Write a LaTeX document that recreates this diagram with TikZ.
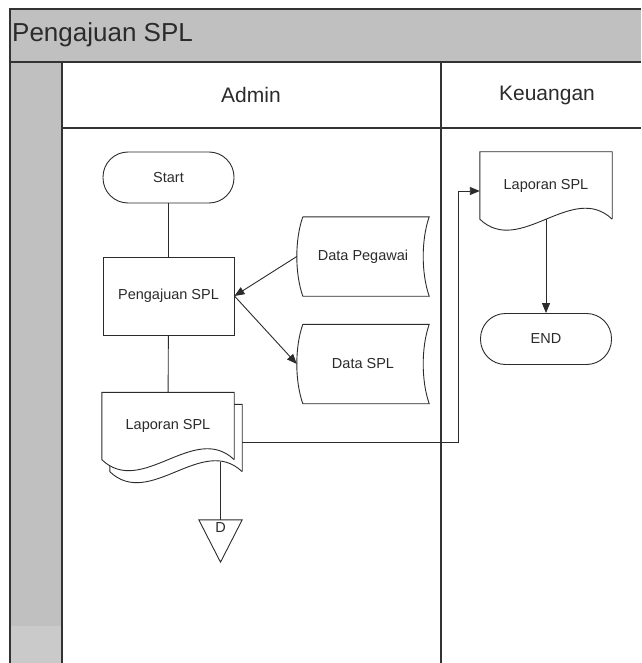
\documentclass[tikz,border=0pt]{standalone}
\usepackage{fontspec}
\setmainfont{Liberation Sans}
\usetikzlibrary{arrows.meta,calc}
\definecolor{lanegray}{HTML}{C0C0C0}
\definecolor{lanelight}{HTML}{CACACA}
\definecolor{frameline}{HTML}{333333}
\definecolor{inkgray}{HTML}{2B2B2B}
\pgfdeclarelayer{lanes}
\pgfdeclarelayer{shapes}
\pgfsetlayers{lanes,shapes,main}

\begin{document}
\begin{tikzpicture}[
      x=1pt, y=-1pt,
      title/.style={anchor=west, inner sep=0pt, text=inkgray, font=\fontsize{26}{31}\selectfont},
      header/.style={inner sep=0pt, text=inkgray, font=\fontsize{21}{25}\selectfont},
      terminal/.style={draw=inkgray, line width=0.9pt, rounded corners=25pt, minimum width=131pt, minimum height=51pt, inner sep=0pt, text=inkgray, font=\fontsize{14.5}{17}\selectfont},
      process/.style={draw=inkgray, line width=0.9pt, minimum width=131pt, minimum height=78pt, inner sep=0pt, text=inkgray, font=\fontsize{14.5}{17}\selectfont},
      store/.style={minimum width=132pt, minimum height=79pt, inner sep=0pt, text=inkgray, font=\fontsize{14.5}{17}\selectfont},
      docbox/.style={minimum width=132pt, minimum height=67pt, inner sep=0pt, text=inkgray, font=\fontsize{14.5}{17}\selectfont},
      conn/.style={minimum width=43pt, minimum height=42pt, inner sep=0pt},
      outline/.style={draw=inkgray, line width=0.9pt, fill=white},
      link/.style={draw=inkgray, line width=0.9pt},
      arr/.style={-{Triangle[length=10pt,width=8pt]}, draw=inkgray, line width=0.9pt},
      lane/.style={draw=frameline, line width=1.6pt}
  ]
    \useasboundingbox (0,0) rectangle (641,663);

    % pool and lanes
    \begin{pgfonlayer}{lanes}
      \fill[lanegray] (10,9) rectangle (641,62);
      \fill[lanegray] (10,62) rectangle (62,626);
      \fill[lanelight] (10,626) rectangle (62,663);
      \draw[lane] (641,9) -- (10,9) -- (10,663);
      \draw[lane] (10,62) -- (641,62);
      \draw[lane] (62,62) -- (62,663);
      \draw[lane] (62,128) -- (641,128);
      \draw[lane] (441,62) -- (441,663);
    \end{pgfonlayer}
    \node[title] (pool) at (12,35) {Pengajuan SPL};
    \node[header] (admin) at (251,95) {Admin};
    \node[header] (keuangan) at (547,95) {Keuangan};

    % Admin
    \node[terminal] (start) at (168.5,177.5) {Start};
    \node[process] (ajuan) at (168.5,296) {Pengajuan SPL};
    \node[store] (dataPeg) at (363,256.5) {Data Pegawai};
    \node[store] (dataSpl) at (363,364) {Data SPL};
    \node[docbox] (lapBack) at (176,438) {};
    \node[docbox] (lapAdm) at (168,426) {Laporan SPL};
    \node[conn] (conD) at (220.5,541) {};
    \node[anchor=north, inner sep=0pt, text=inkgray, font=\fontsize{14.5}{17}\selectfont] (conDtext) at ([yshift=-3pt]conD.north) {D};

    % Keuangan
    \node[docbox] (lapKeu) at (546,185.5) {Laporan SPL};
    \node[terminal] (finish) at (546,339) {END};

    \begin{pgfonlayer}{shapes}
      \foreach \n in {dataPeg,dataSpl}
        \draw[outline] ($(\n.north west)+(6,0)$) -- (\n.north east)
          .. controls +(-8,23) and +(-8,-23) .. (\n.south east)
          -- ($(\n.south west)+(6,0)$)
          .. controls +(-8,-23) and +(-8,23) .. ($(\n.north west)+(6,0)$);
      \foreach \n in {lapBack,lapAdm,lapKeu}
        \draw[outline] (\n.south east) -- (\n.north east) -- (\n.north west) -- (\n.south west)
          .. controls +(40,38) and +(-40,-38) .. (\n.south east);
      \draw[outline] (conD.north west) -- (conD.north east) -- (conD.south) -- cycle;
    \end{pgfonlayer}

    \draw[link] (start) -- (ajuan);
    \draw[arr] (dataPeg.west) -- (ajuan.east);
    \draw[arr] (ajuan.east) -- (dataSpl.west);
    \draw[link] (ajuan) -- (lapAdm);
    \draw[link] ($(lapBack.south -| conD.north)+(0,-10)$) -- (conD.north);
    \draw[arr] ([yshift=-4pt]lapBack.east) -- ++(216,0) |- ([yshift=-5.5pt]lapKeu.west);
    \draw[arr] (lapKeu.south) -- (finish.north);
  \end{tikzpicture}
\end{document}
